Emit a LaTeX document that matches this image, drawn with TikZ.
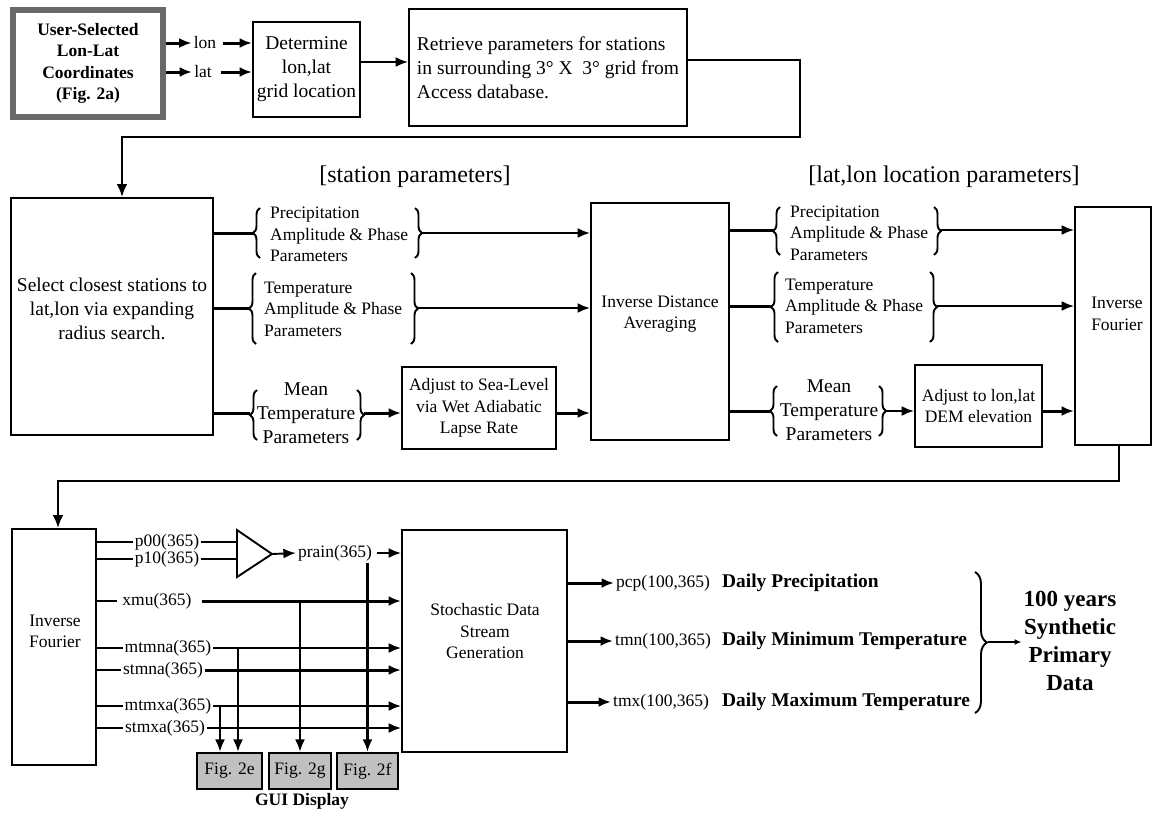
\documentclass[tikz,border=0pt]{standalone}
\usepackage{fontspec}
\setmainfont{Liberation Serif}
\usetikzlibrary{arrows.meta}
\usetikzlibrary{decorations.pathreplacing}
\definecolor{usergray}{RGB}{105,105,105}
\definecolor{figgray}{RGB}{192,192,192}

\begin{document}
\begin{tikzpicture}[x=1pt,y=-1pt,
	every node/.style={inner sep=2pt,font=\fontsize{17.5}{21.5}\selectfont},
	box/.style={draw,line width=1.9pt,inner sep=0pt,align=center},
	big/.style={font=\fontsize{19.5}{24}\selectfont},
	arr/.style={-{Latex[length=12.5pt,width=10pt]},line width=1.9pt},
	fat/.style={-{Latex[length=12.5pt,width=10pt]},line width=3pt},
	stub/.style={line width=3pt},
	wire/.style={line width=1.9pt},
	flow/.style={-{Latex[length=13pt,width=11pt]},line width=2.5pt},
	lbrace/.style={decorate,decoration={brace,amplitude=7pt},line width=1.9pt},
	figbox/.style={box,fill=figgray,line width=2.4pt,minimum height=36pt}
	]
	\useasboundingbox (0,0) rectangle (1154,812);

	% top row
	\node[box,draw=usergray,line width=6pt,minimum width=150pt,minimum height=107pt,
		font=\fontsize{17.5}{21.5}\selectfont\bfseries] (user) at (88,63.5) {User-Selected\\Lon-Lat\\Coordinates\\(Fig. 2a)};
	\node (lon) at (205,43) {lon};
	\node (lat) at (203,72) {lat};
	\node[box,big,minimum width=107pt,minimum height=95pt] (det) at (306.5,69.5) {Determine\\lon,lat\\grid location};
	\node[box,big,minimum width=278pt,minimum height=117pt,align=left] (ret) at (548,67.5) {Retrieve parameters for stations\\in surrounding 3° X~~3° grid from\\Access database.};
	\draw[fat] (user.east |- lon) -- (lon.west);
	\draw[fat] (user.east |- lat) -- (lat.west);
	\draw[fat] ([xshift=5pt]lon.east) -- (det.west |- lon);
	\draw[fat] ([xshift=7pt]lat.east) -- (det.west |- lat);
	\coordinate (detout) at ([yshift=7.5pt]det.east);
	\draw[arr] (detout) -- (detout -| ret.west);

	% headings
	\node[font=\fontsize{24}{28}\selectfont] (sthead) at (415,177) {[station parameters]};
	\node[font=\fontsize{24}{28}\selectfont] (lochead) at (944,177) {[lat,lon location parameters]};

	% station side
	\node[box,minimum width=202pt,minimum height=237pt] (sel) at (112,316.5) {};
	\node[big,align=center] (seltxt) at (112,308.5) {Select closest stations to\\lat,lon via expanding\\radius search.};
	\coordinate (turn1) at (800,137);
	\draw[flow] ([yshift=7.5pt]ret.east) -| (turn1) -| ([xshift=10pt]sel.north);
	\node[box,minimum width=138pt,minimum height=237pt] (ida) at (660,321.5) {};
	\node[align=center] (idatxt) at (660,314) {Inverse Distance\\Averaging};
	\node[box,minimum width=154pt,minimum height=82pt] (sea) at (479,408) {Adjust to Sea-Level\\via Wet Adiabatic\\Lapse Rate};

	\node[align=left,anchor=west] (spt) at (268,234.5) {Precipitation\\Amplitude \& Phase\\Parameters};
	\coordinate (sp-in) at (253,233);
	\coordinate (sp-out) at (422,233);
	\draw[lbrace] (260,258) -- (260,208);
	\draw[lbrace] (415,208) -- (415,258);
	\draw[stub] (sel.east |- sp-in) -- (sp-in);
	\draw[arr] (sp-out) -- (ida.west |- sp-out);

	\node[align=left,anchor=west] (stt) at (262,309) {Temperature\\Amplitude \& Phase\\Parameters};
	\coordinate (st-in) at (249,308);
	\coordinate (st-out) at (418,308);
	\draw[lbrace] (256,344) -- (256,273);
	\draw[lbrace] (411,273) -- (411,344);
	\draw[stub] (sel.east |- st-in) -- (st-in);
	\draw[arr] (st-out) -- (ida.west |- st-out);

	\node[big,align=center] (smt) at (306,413) {Mean\\Temperature\\Parameters};
	\coordinate (sm-in) at (250,413);
	\coordinate (sm-out) at (364,413);
	\draw[lbrace] (257,440) -- (257,390);
	\draw[lbrace] (357,390) -- (357,440);
	\draw[stub] (sel.east |- sm-in) -- (sm-in);
	\draw[fat] (sm-out) -- (sea.west |- sm-out);
	\draw[fat] (sea.east |- sm-in) -- (ida.west |- sm-in);

	% location side
	\node[box,minimum width=76pt,minimum height=238pt] (rif) at (1113,326) {};
	\node[align=center] (riftxt) at (1117,314) {Inverse\\Fourier};
	\node[box,minimum width=127pt,minimum height=82pt] (dem) at (978.5,406) {Adjust to lon,lat\\DEM elevation};

	\node[align=left,anchor=west] (lpt) at (788,233) {Precipitation\\Amplitude \& Phase\\Parameters};
	\coordinate (lp-in) at (773,230);
	\coordinate (lp-out) at (941,230);
	\draw[lbrace] (780,255) -- (780,207);
	\draw[lbrace] (934,207) -- (934,255);
	\draw[stub] (ida.east |- lp-in) -- (lp-in);
	\draw[arr] (lp-out) -- (rif.west |- lp-out);

	\node[align=left,anchor=west] (ltt) at (783,306) {Temperature\\Amplitude \& Phase\\Parameters};
	\coordinate (lt-in) at (771,306);
	\coordinate (lt-out) at (937,306);
	\draw[lbrace] (778,342) -- (778,272);
	\draw[lbrace] (930,272) -- (930,342);
	\draw[stub] (ida.east |- lt-in) -- (lt-in);
	\draw[arr] (lt-out) -- (rif.west |- lt-out);

	\node[big,align=center] (lmt) at (829,410) {Mean\\Temperature\\Parameters};
	\coordinate (lm-in) at (770,411);
	\coordinate (lm-out) at (886,411);
	\draw[lbrace] (777,436) -- (777,386);
	\draw[lbrace] (879,386) -- (879,436);
	\draw[stub] (ida.east |- lm-in) -- (lm-in);
	\draw[arr] (lm-out) -- (dem.west |- lm-out);
	\draw[fat] (dem.east |- lm-in) -- (rif.west |- lm-in);

	% bottom row
	\node[box,minimum width=84pt,minimum height=236pt] (lif) at (54,647) {};
	\node[align=center] (liftxt) at (55,631.5) {Inverse\\Fourier};
	\coordinate (turn2) at (58,481);
	\draw[flow] ([xshift=6pt]rif.south) |- (turn2) -- (turn2 |- lif.north);
	\node[box,minimum width=165pt,minimum height=222pt] (stoch) at (484.5,641) {};
	\node[align=center] (stochtxt) at (485,631.5) {Stochastic Data\\Stream\\Generation};

	\node (p00) at (167,542) {p00(365)};
	\node (p10) at (167,559) {p10(365)};
	\node (xmu) at (157,601) {xmu(365)};
	\node (mtmna) at (168,648) {mtmna(365)};
	\node (stmna) at (163,670) {stmna(365)};
	\node (mtmxa) at (168,706) {mtmxa(365)};
	\node (stmxa) at (165,728) {stmxa(365)};
	\draw[wire] (lif.east |- p00) -- (p00.west);
	\draw[wire] (lif.east |- p10) -- (p10.west);
	\draw[wire] (lif.east |- xmu) -- ([xshift=-3pt]xmu.west);
	\draw[wire] (lif.east |- mtmna) -- (mtmna.west);
	\draw[wire] (lif.east |- stmna) -- (stmna.west);
	\draw[wire] (lif.east |- mtmxa) -- (mtmxa.west);
	\draw[wire] (lif.east |- stmxa) -- (stmxa.west);

	\coordinate (amp-a) at (237,530);
	\coordinate (amp-b) at (237,577);
	\coordinate (amp-tip) at (272,554);
	\draw[wire] (amp-a) -- (amp-tip) -- (amp-b) -- cycle;
	\draw[wire] (p00.east) -- (amp-a |- p00);
	\draw[wire] (p10.east) -- (amp-a |- p10);
	\node (prain) at (335,553) {prain(365)};
	\draw[arr] (amp-tip) -- (prain.west);
	\draw[arr] ([xshift=3pt]prain.east) -- (stoch.west |- prain);

	\draw[fat] ([xshift=8pt]xmu.east) -- (stoch.west |- xmu);
	\draw[arr] (mtmna.east) -- (stoch.west |- mtmna);
	\draw[fat] (stmna.east) -- (stoch.west |- stmna);
	\draw[arr] (mtmxa.east) -- (stoch.west |- mtmxa);
	\draw[arr] (stmxa.east) -- (stoch.west |- stmxa);

	\node[figbox,minimum width=65pt] (f2e) at (229.5,771) {Fig. 2e};
	\node[figbox,minimum width=62pt] (f2g) at (300,771) {Fig. 2g};
	\node[figbox,minimum width=61pt] (f2f) at (367.5,771) {Fig. 2f};
	\node[font=\fontsize{17.5}{21.5}\selectfont\bfseries] (gui) at (302,801) {GUI Display};
	\coordinate (e-r) at ([xshift=8.5pt]f2e.north);
	\coordinate (e-l) at ([xshift=-9.5pt]f2e.north);
	\draw[arr] (e-r |- mtmna) -- (e-r);
	\draw[arr] (e-l |- mtmxa) -- (e-l);
	\draw[arr] (f2g.north |- xmu) -- (f2g.north);
	\draw[arr,line width=2.4pt] (f2f.north |- prain.south) -- (f2f.north);

	% outputs
	\node[anchor=west] (pcp) at (614,583) {pcp(100,365)};
	\node[anchor=west] (tmn) at (613,641) {tmn(100,365)};
	\node[anchor=west] (tmx) at (611,702) {tmx(100,365)};
	\node[anchor=west,font=\fontsize{19.4}{23}\selectfont\bfseries] (pcpname) at (720,583) {Daily Precipitation};
	\node[anchor=west,font=\fontsize{19.4}{23}\selectfont\bfseries] (tmnname) at (720,641) {Daily Minimum Temperature};
	\node[anchor=west,font=\fontsize{19.4}{23}\selectfont\bfseries] (tmxname) at (720,702) {Daily Maximum Temperature};
	\draw[fat] (stoch.east |- pcp) -- (pcp.west);
	\draw[fat] (stoch.east |- tmn) -- (tmn.west);
	\draw[fat] (stoch.east |- tmx) -- (tmx.west);

	\draw[lbrace,decoration={brace,amplitude=12pt}] (975,572) -- (975,713);
	\coordinate (out-tip) at (988,642);
	\node[align=center,font=\fontsize{23}{28}\selectfont\bfseries] (synth) at (1070,640.5) {100 years\\Synthetic\\Primary\\Data};
	\draw[-{Latex[length=7pt,width=6pt]},line width=1.2pt] (out-tip) -- (synth.west |- out-tip);
\end{tikzpicture}
\end{document}
